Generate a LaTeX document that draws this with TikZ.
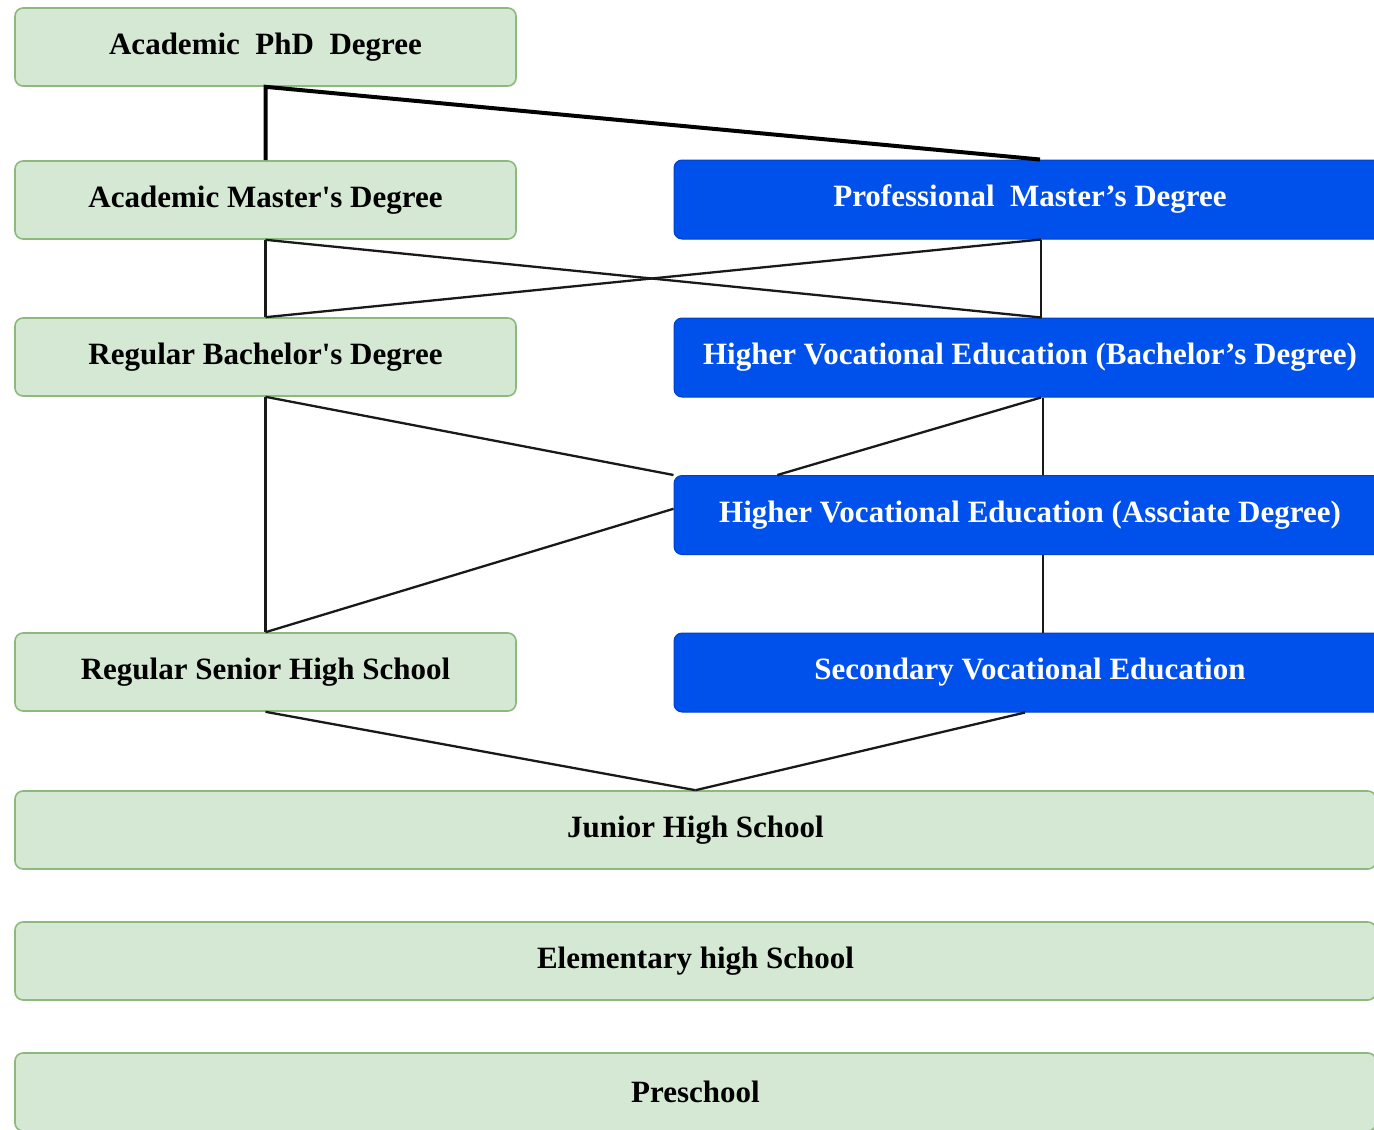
\documentclass[tikz,border=0pt]{standalone}
\usepackage{fontspec}
\setmainfont{Liberation Serif}

\definecolor{greenfill}{HTML}{D5E8D4}
\definecolor{greenline}{HTML}{8DB97C}
\definecolor{bluefill}{HTML}{0050EB}
\definecolor{blueline}{HTML}{0040C8}

\begin{document}
\begin{tikzpicture}[
		x=1pt, y=-1pt,
		every node/.style={font=\fontsize{31}{36}\selectfont\bfseries, inner sep=0pt, rounded corners=8pt},
		general/.style={draw=greenline, line width=1.6pt, fill=greenfill, text=black, minimum width=501pt, minimum height=78pt},
		basic/.style={general, minimum width=1361pt},
		vocational/.style={draw=blueline, line width=1pt, fill=bluefill, text=white, minimum width=712pt, minimum height=79pt},
		link/.style={draw=black!90, line width=2.3pt},
		phdlink/.style={draw=black, line width=4pt}
		]
		\useasboundingbox (0,0) rectangle (1374,1130);
		
		% General education track
		\node[general] (phd) at (265.5,47) {Academic~ PhD~ Degree};
		\node[general] (ams) at (265.5,200) {Academic Master\textquotesingle s Degree};
		\node[general] (rbd) at (265.5,357) {Regular Bachelor\textquotesingle s Degree};
		\node[general] (rsh) at (265.5,672) {Regular Senior High School};
		
		% Vocational track
		\node[vocational] (pmd) at (1030,199.5) {Professional~ Master's Degree};
		\node[vocational] (hvb) at (1030,357.5) {Higher Vocational Education (Bachelor's Degree)};
		\node[vocational] (hva) at (1030,515) {Higher Vocational Education (Assciate Degree)};
		\node[vocational] (sve) at (1030,672.5) {Secondary Vocational Education};
		
		% Basic education
		\node[basic] (jhs) at (695.5,830) {Junior High School};
		\node[basic] (ehs) at (695.5,961) {Elementary high School};
		\node[basic] (pre) at (695.5,1092) {Preschool};
		
		% Links to the PhD
		\draw[phdlink] (ams.north) -- (phd.south) -- ([xshift=10pt]pmd.north);
		
		% Links between master and bachelor
		\draw[link] (ams.south) -- (rbd.north);
		\draw[link] (ams.south) -- ([xshift=11pt]hvb.north);
		\draw[link] ([xshift=11pt]pmd.south) -- (rbd.north);
		\draw[link] ([xshift=11pt]pmd.south) -- ([xshift=11pt]hvb.north);
		
		% Links below the bachelor level
		\draw[link] (rbd.south) -- (rsh.north);
		\draw[link] (rbd.south) -- (hva.north west);
		\draw[link] (rsh.north) -- (hva.179);
		\draw[link] ([xshift=11pt]hvb.south) -- (hva.171);
		\draw[link] ([xshift=13pt]hvb.south) -- ([xshift=13pt]hva.north);
		\draw[link] ([xshift=13pt]hva.south) -- ([xshift=13pt]sve.north);
		
		% Links to junior high school
		\draw[link] (rsh.south) -- (jhs.north);
		\draw[link] ([xshift=-5pt]sve.south) -- (jhs.north);
	\end{tikzpicture}
\end{document}
